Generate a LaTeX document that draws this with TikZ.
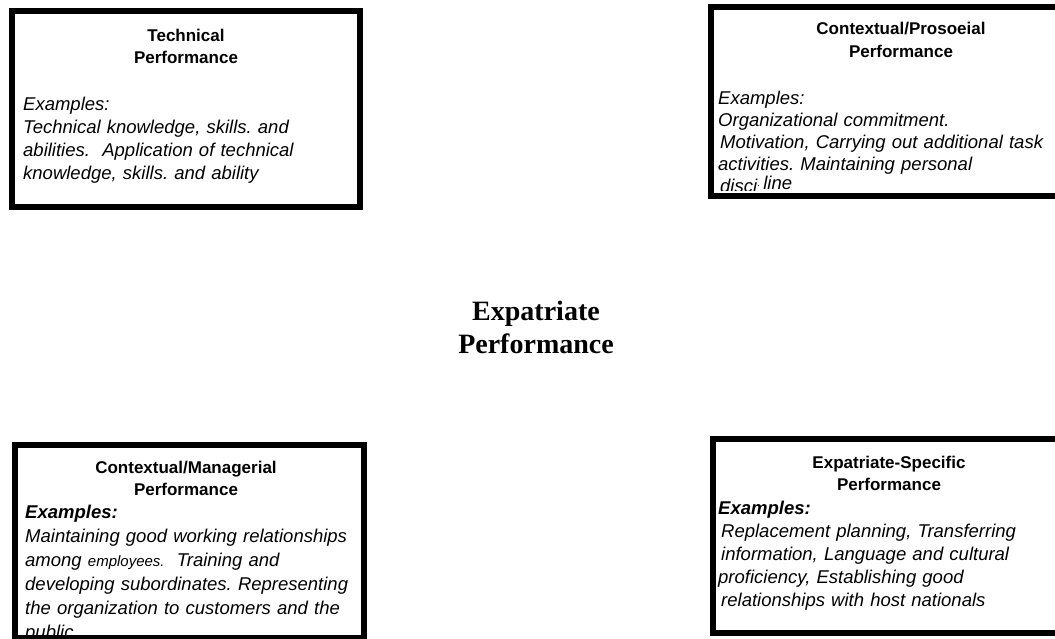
\documentclass[tikz,border=0pt]{standalone}
\usepackage{fontspec}
\setmainfont{Liberation Sans}
\newfontfamily\serifbold{Liberation Serif}
\frenchspacing
\begin{document}
\begin{tikzpicture}[x=1pt,y=-1pt,
  box/.style={draw=black, line width=6pt, inner sep=0pt, outer sep=0pt},
  ttl/.style={font=\bfseries\fontsize{17}{#1}\selectfont, text width=330pt, align=center, anchor=base, inner sep=0pt},
  bdy/.style={font=\itshape\fontsize{18.5}{#1}\selectfont, text width=345pt, align=left, anchor=base west, inner sep=0pt},
  ctr/.style={font=\serifbold\bfseries\fontsize{28}{33}\selectfont, text width=300pt, align=center, anchor=base, inner sep=0pt}]
\useasboundingbox (0,0) rectangle (1055,638);

% Technical
\node[ttl=22] (t1) at (186,41) {Technical\\Performance};
\node[bdy=23] (e1) at (23,110) {Examples:\\Technical knowledge, skills. and\\abilities.\ \ Application of technical\\knowledge, skills. and ability};

% Contextual/Prosocial
\node[ttl=23] (t2) at (901,34) {Contextual/Prosoeial\\Performance};
\begin{scope}
\clip (700,0) rectangle (1055,190);
\node[bdy=22] (e2) at (718,104) {Examples:\\Organizational commitment.\\\hspace{2pt}Motivation, Carrying out additional task\\activities. Maintaining personal\\\hspace{2pt}disci\raisebox{4pt}{\fontsize{9}{9}\selectfont\textperiodcentered}\,\raisebox{3pt}{line}};
\end{scope}

% Contextual/Managerial
\node[ttl=22] (t3) at (186,473) {Contextual/Managerial\\Performance};
\node[bdy=24] (e3) at (25,518.5) {\textbf{Examples:}\\Maintaining good working relationships\\among {\fontsize{15}{15}\selectfont employees.}\ \ Training and\\developing subordinates. Representing\\the organization to customers and the\\public};

% Expatriate-Specific
\node[ttl=22] (t4) at (889,468) {Expatriate-Specific\\Performance};
\node[bdy=23] (e4) at (718,514) {\textbf{Examples:}\\\hspace{3pt}Replacement planning, Transferring\\\hspace{3pt}information, Language and cultural\\proficiency, Establishing good\\\hspace{3pt}relationships with host nationals};

% Centre
\node[ctr] (c) at (536,320) {Expatriate\\Performance};

% Boxes (drawn last so borders overlap text)
\node[box, minimum width=348pt, minimum height=196pt] (b1) at (186,109) {};
\node[box, minimum width=351pt, minimum height=189.5pt] (b2) at (886.5,101.25) {};
\node[box, minimum width=349pt, minimum height=193pt] (b3) at (189.5,541.5) {};
\node[box, minimum width=349pt, minimum height=194pt] (b4) at (887.5,536) {};
\end{tikzpicture}
\end{document}
